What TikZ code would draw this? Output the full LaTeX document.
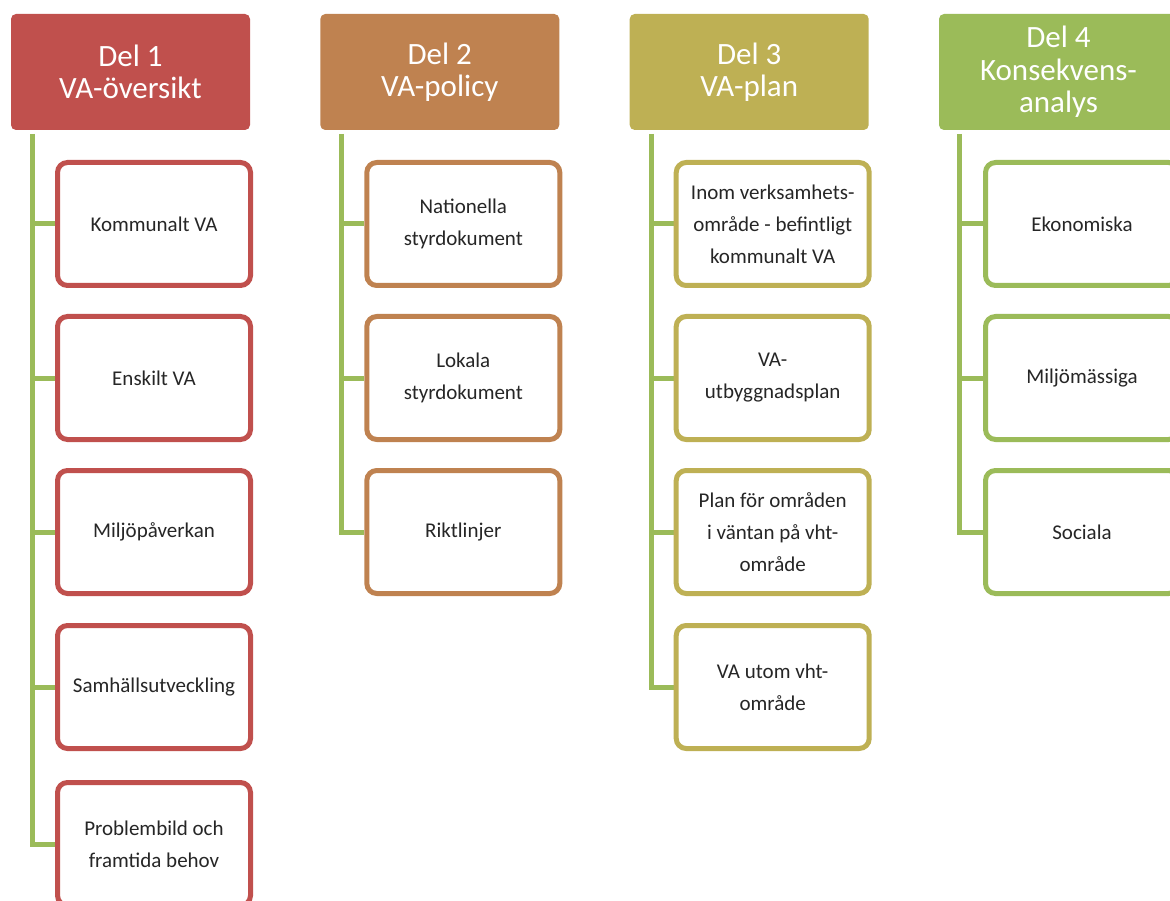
\documentclass[tikz,border=0pt]{standalone}
\usepackage{fontspec}
\setmainfont{Carlito}
\definecolor{cA}{HTML}{C0504D}
\definecolor{cB}{HTML}{BF8250}
\definecolor{cC}{HTML}{BEB054}
\definecolor{cD}{HTML}{9BBB59}
\definecolor{treeg}{HTML}{9BBB59}
\definecolor{txt}{HTML}{262626}
\pgfdeclarelayer{bg}
\pgfsetlayers{bg,main}
\tikzset{
  head/.style={fill=#1, draw=none, rounded corners=5pt, minimum width=239pt,
    minimum height=116pt, text=white, font=\fontsize{31}{32.5}\selectfont,
    align=center, inner sep=0pt, outer sep=0pt, anchor=north west},
  child/.style={draw=#1, line width=5pt, rounded corners=10pt, fill=white,
    minimum width=193pt, minimum height=123pt, text=txt,
    font=\fontsize{21}{32}\selectfont, align=center, anchor=north west, inner sep=0pt},
  treeline/.style={draw=treeg, line width=5pt, line join=miter}
}
\begin{document}
\begin{tikzpicture}[x=1pt,y=-1pt]
\useasboundingbox (0,0) rectangle (1170,901);
\clip (0,0) rectangle (1170,901);
% headers
\node[head=cA] (h1) at (11,14) {Del 1\\VA-översikt};
\node[head=cB] (h2) at (320.3,14) {Del 2\\VA-policy};
\node[head=cC] (h3) at (629.7,14) {Del 3\\VA-plan};
\node[head=cD] (h4) at (939,14) {Del 4\\Konsekvens-\\analys};
% column 1
\node[child=cA] (c11) at (55,160) {Kommunalt VA};
\node[child=cA] (c12) at (55,314) {Enskilt VA};
\node[child=cA] (c13) at (55,468) {Miljöpåverkan};
\node[child=cA] (c14) at (55,623) {Samhällsutveckling};
\node[child=cA] (c15) at (55,780) {Problembild och\\framtida behov};
% column 2
\node[child=cB] (c21) at (364.3,160) {Nationella\\styrdokument};
\node[child=cB] (c22) at (364.3,314) {Lokala\\styrdokument};
\node[child=cB] (c23) at (364.3,468) {Riktlinjer};
% column 3
\node[child=cC] (c31) at (673.7,160) {Inom verksamhets-\\område - befintligt\\kommunalt VA};
\node[child=cC] (c32) at (673.7,314) {VA-\\utbyggnadsplan};
\node[child=cC] (c33) at (673.7,468) {Plan för områden\\i väntan på vht-\\område};
\node[child=cC] (c34) at (673.7,623) {VA utom vht-\\område};
% column 4
\node[child=cD] (c41) at (983,160) {Ekonomiska};
\node[child=cD] (c42) at (983,314) {Miljömässiga};
\node[child=cD] (c43) at (983,468) {Sociala};
% tree lines
\coordinate (v1) at (32.5,134);
\coordinate (v2) at (341.8,134);
\coordinate (v3) at (651.2,134);
\coordinate (v4) at (959.5,134);
\begin{pgfonlayer}{bg}
\foreach \c in {c11,c12,c13,c14} \draw[treeline] (v1 |- \c.west) -- (\c.west);
\draw[treeline] (v1) |- (c15.west);
\foreach \c in {c21,c22} \draw[treeline] (v2 |- \c.west) -- (\c.west);
\draw[treeline] (v2) |- (c23.west);
\foreach \c in {c31,c32,c33} \draw[treeline] (v3 |- \c.west) -- (\c.west);
\draw[treeline] (v3) |- (c34.west);
\foreach \c in {c41,c42} \draw[treeline] (v4 |- \c.west) -- (\c.west);
\draw[treeline] (v4) |- (c43.west);
\end{pgfonlayer}
\end{tikzpicture}
\end{document}
